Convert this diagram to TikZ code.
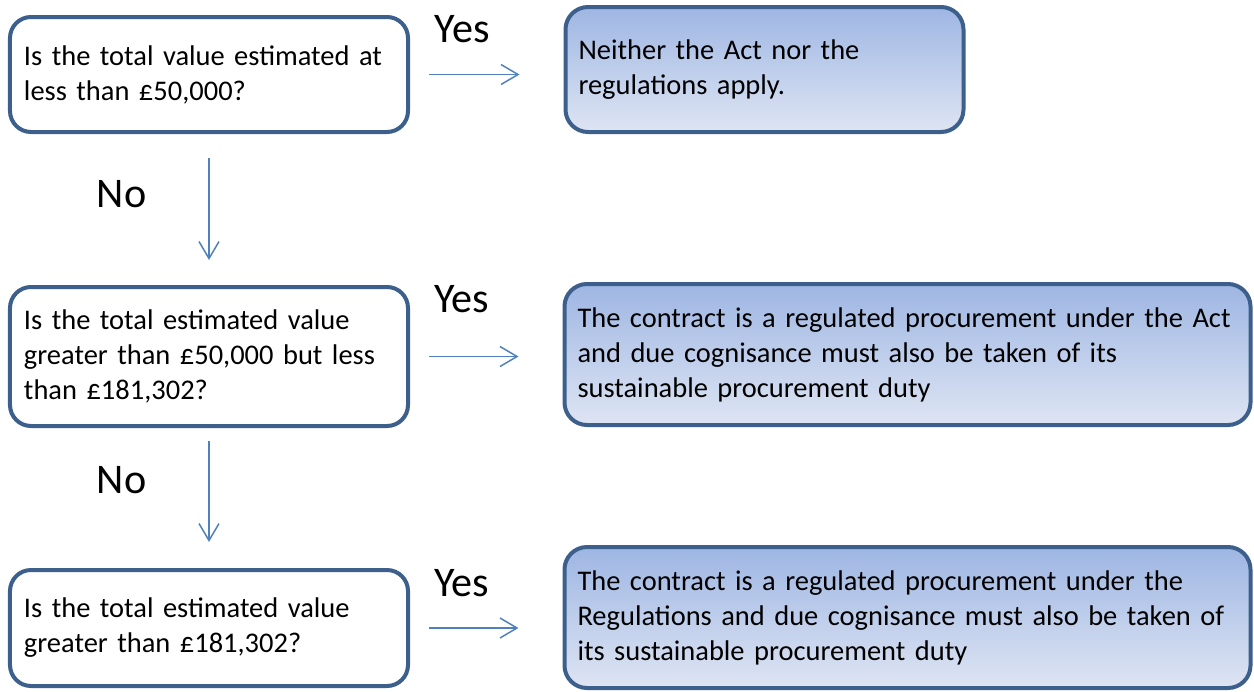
\documentclass[tikz,border=0pt]{standalone}
\usepackage{fontspec}
\setmainfont{Carlito}
\usetikzlibrary{arrows.meta}
\definecolor{boxline}{RGB}{60,95,140}
\definecolor{shadetop}{RGB}{158,182,227}
\definecolor{shadebottom}{RGB}{222,229,243}
\definecolor{arrowblue}{RGB}{79,129,189}
\newcommand{\boxfont}{\fontsize{16.2}{19.9}\selectfont}
\newcommand{\labelfont}{\fontsize{24}{28}\selectfont}
\tikzstyle{question} = [rectangle, rounded corners=0.42cm, 
minimum width=7.96cm, 
minimum height=2.3cm, 
inner xsep=0.28cm, 
text width=7.4cm, 
align=left, 
draw=boxline, 
line width=0.08cm, 
fill=white, 
font=\boxfont]
\tikzstyle{answer} = [rectangle, rounded corners=0.45cm, 
minimum width=13.72cm, 
minimum height=2.82cm, 
inner xsep=0.26cm, 
text width=13.2cm, 
align=left, 
draw=boxline, 
line width=0.08cm, 
top color=shadetop, 
bottom color=shadebottom, 
font=\boxfont]
\tikzstyle{choice} = [inner sep=0pt, text=black, font=\labelfont]
\tikzstyle{arrow} = [arrowblue, line width=0.03cm, -{Straight Barb[length=0.34cm, width=0.4cm]}]
\tikzstyle{yesarrow} = [arrow, shorten <=0.38cm, shorten >=0.88cm]

\begin{document}
\begin{tikzpicture} [node distance=5.64cm]
		\useasboundingbox (0,0) rectangle (25.08,-13.82);
		\node (q1) [question] at (4.18,-1.49) {Is the total value estimated at\\less than £50,000?};
		\node (q2) [question, below of=q1, minimum height=2.78cm] {Is the total estimated value\\greater than £50,000 but less\\than £181,302?};
		\node (q3) [question, below of=q2, node distance=5.43cm, minimum height=2.32cm] {Is the total estimated value\\greater than £181,302?};
		\node (a1) [answer, right of=q1, node distance=11.11cm, yshift=0.1cm, minimum width=7.96cm, minimum height=2.5cm, text width=7.44cm] {Neither the Act nor the\\regulations apply.};
		\node (a2) [answer, right of=q2, node distance=13.97cm, yshift=0.04cm] {The contract is a regulated procurement under the Act\\and due cognisance must also be taken of its\\sustainable procurement duty};
		\node (a3) [answer, right of=q3, node distance=13.97cm, yshift=0.21cm] {The contract is a regulated procurement under the\\Regulations and due cognisance must also be taken of\\its sustainable procurement duty};
		\draw [yesarrow] (q1.east) -- node[choice, pos=0.34, above=0.61cm] {Yes} (q1.east -| a1.west);
		\draw [yesarrow] (q2.east) -- node[choice, pos=0.34, above=0.85cm] {Yes} (q2.east -| a2.west);
		\draw [yesarrow] (q3.east) -- node[choice, pos=0.34, above=0.6cm] {Yes} (q3.east -| a3.west);
		\draw [arrow, shorten <=0.48cm, shorten >=0.5cm] (q1.south) -- node[choice, pos=0.4, left=1.24cm] {No} (q2.north);
		\draw [arrow, shorten <=0.26cm, shorten >=0.52cm] (q2.south) -- node[choice, pos=0.375, left=1.24cm] {No} (q3.north);
	\end{tikzpicture}
\end{document}
